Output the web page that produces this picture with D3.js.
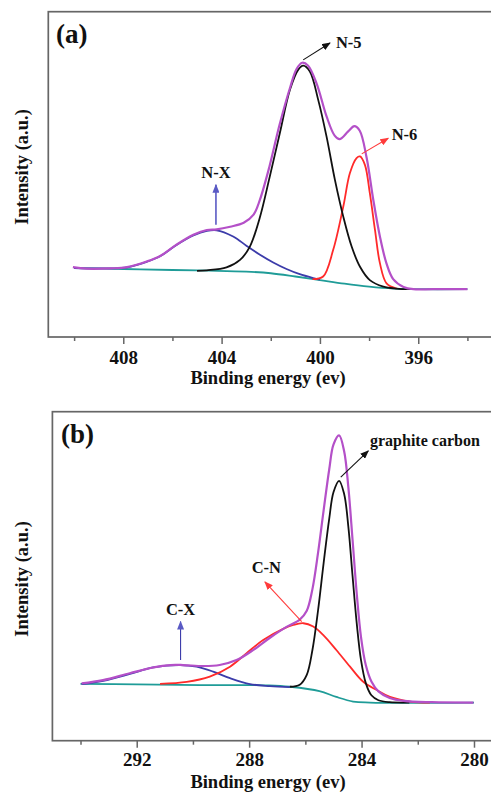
<!DOCTYPE html>
<html>
<head>
<meta charset="utf-8">
<script src="https://cdn.jsdelivr.net/npm/d3@7"></script>
<style>
body { margin: 0; background: #fff; }
svg text { font-family: "Liberation Serif", "Times New Roman", serif; font-weight: bold; fill: #111; }
</style>
</head>
<body>
<svg id="chart" width="491" height="793"></svg>
<script>
// ---- panel (a): N 1s ----
var majorTicksA = [408, 404, 400, 396];
var minorTicksA = [410, 406, 402, 398, 394];
var baseA = [[410.0, 21.2], [408.0, 20.9], [406.0, 20.6], [404.5, 20.4], [403.0, 20.1], [402.0, 19.6],
    [401.0, 18.6], [400.0, 17.5], [399.0, 16.4], [398.0, 15.5], [397.0, 14.9], [396.0, 14.7], [394.0, 14.7]];
var nxA = [[410.0, 21.2], [408.5, 21.1], [407.85, 21.4], [407.05, 23.1], [406.5, 24.8], [405.85, 28.2],
    [405.15, 31.2], [404.6, 32.6], [404.2, 32.8], [403.53, 30.9], [402.98, 28.0], [402.44, 25.3],
    [401.9, 22.9], [401.36, 20.9], [400.82, 19.3], [400.27, 18.1], [400.0, 17.6]];
var n6A = [[400.3, 17.8], [399.87, 18.6], [399.46, 26.8], [399.05, 40.1], [398.78, 50.4], [398.51, 55.0],
    [398.37, 55.5], [398.17, 52.9], [397.97, 44.2], [397.76, 32.9], [397.56, 22.7], [397.29, 16.5], [396.88, 14.9]];
var n5A = [[405.0, 20.3], [404.6, 20.5], [403.8, 21.4], [403.25, 23.7], [402.85, 27.8], [402.45, 36.6],
    [402.05, 49.0], [401.63, 62.7], [401.22, 76.0], [400.88, 82.2], [400.68, 83.4], [400.41, 81.6],
    [400.07, 72.9], [399.73, 61.6], [399.39, 48.3], [399.05, 37.0], [398.71, 27.8], [398.37, 21.6],
    [397.97, 17.5], [397.42, 15.5], [396.88, 14.9], [396.34, 14.7]];
var envA = [[410.05, 21.5], [409.5, 21.0], [408.5, 21.1], [407.85, 21.5], [407.05, 23.2], [406.5, 24.9],
    [405.85, 28.3], [405.15, 31.4], [404.6, 32.9], [404.2, 33.1], [403.65, 33.9], [403.1, 35.1],
    [402.7, 37.6], [402.45, 42.0], [402.05, 52.5], [401.65, 65.0], [401.2, 77.0], [400.95, 82.4],
    [400.72, 84.3], [400.48, 83.4], [400.13, 77.8], [399.73, 67.8], [399.4, 61.9], [399.2, 60.8],
    [398.85, 63.2], [398.6, 64.8], [398.38, 63.4], [398.1, 55.1], [397.83, 42.2], [397.56, 30.9],
    [397.3, 22.8], [397.02, 17.8], [396.6, 15.4], [396.2, 14.7], [395.4, 14.7], [394.0, 14.7]];

// ---- panel (b): C 1s ----
var majorTicksB = [292, 288, 284, 280];
var minorTicksB = [294, 290, 286, 282];
var baseB = [[294.0, 17.3], [292.0, 17.1], [289.75, 16.9], [287.3, 16.8], [286.55, 16.4], [285.5, 15.1],
    [284.9, 13.3], [284.3, 11.9], [283.7, 11.6], [280.0, 11.6]];
var cxB = [[293.96, 17.2], [293.19, 18.2], [292.24, 20.3], [291.41, 22.3], [290.46, 23.0], [289.87, 22.5],
    [289.28, 21.0], [288.68, 19.0], [287.97, 17.2], [287.26, 16.6], [286.55, 16.3]];
var cnB = [[291.17, 17.3], [290.22, 17.9], [289.4, 19.5], [288.68, 22.5], [288.09, 26.6], [287.5, 30.6],
    [286.79, 34.0], [286.43, 35.2], [286.07, 35.7], [285.72, 34.7], [285.36, 32.1], [284.89, 27.5],
    [284.41, 22.5], [283.94, 17.9], [283.46, 15.4], [282.99, 13.3], [282.28, 11.9], [281.57, 11.6]];
var gcB = [[286.55, 16.4], [286.2, 17.0], [285.95, 20.0], [285.75, 27.5], [285.55, 39.5], [285.35, 54.0],
    [285.15, 67.5], [285.0, 75.5], [284.8, 79.0], [284.62, 75.0], [284.47, 65.0], [284.32, 50.0],
    [284.17, 35.5], [284.02, 24.5], [283.85, 17.5], [283.65, 13.8], [283.4, 12.3], [283.0, 11.7], [282.3, 11.6]];
var envB = [[293.96, 17.4], [293.2, 18.4], [292.25, 20.5], [291.4, 22.3], [290.8, 23.0], [290.35, 23.0],
    [289.63, 22.7], [289.05, 23.0], [288.45, 24.5], [287.85, 27.6], [287.26, 31.3], [286.67, 34.6],
    [286.2, 36.8], [285.95, 39.5], [285.75, 46.0], [285.55, 57.0], [285.35, 70.0], [285.15, 82.5],
    [285.0, 90.0], [284.8, 92.8], [284.62, 88.0], [284.47, 77.0], [284.32, 61.0], [284.17, 44.5],
    [284.02, 31.5], [283.85, 23.0], [283.65, 18.0], [283.4, 15.0], [283.0, 13.0], [282.5, 12.1],
    [281.5, 11.7], [280.02, 11.6]];

var svg = d3.select("#chart");
var defs = svg.append("defs");
function addMarker(id, color) {
    defs.append("marker")
        .attr("id", id)
        .attr("viewBox", "0 0 10 8")
        .attr("refX", 9)
        .attr("refY", 4)
        .attr("markerWidth", 9)
        .attr("markerHeight", 7)
        .attr("markerUnits", "userSpaceOnUse")
        .attr("orient", "auto")
        .append("path")
        .attr("d", "M0,0L10,4L0,8Z")
        .attr("fill", color);
}
addMarker("headBlack", "#111");
addMarker("headRed", "#ff3b3b");
addMarker("headBlue", "#5a5ac4");

var frameColor = "#666";

function drawPanel(p) {
    var x = d3.scaleLinear().domain(p.xDomain).range([p.left, p.right]);
    var y = d3.scaleLinear().domain([0, 100]).range([p.bottom, p.top]);
    var g = svg.append("g");

    // frame
    g.append("rect")
        .attr("x", p.left).attr("y", p.top)
        .attr("width", p.right - p.left).attr("height", p.bottom - p.top)
        .attr("fill", "none").attr("stroke", frameColor).attr("stroke-width", 1.7);

    // minor ticks
    var minor = g.append("g")
        .attr("transform", `translate(0,${p.bottom})`)
        .call(d3.axisBottom(x).tickValues(p.minor).tickSize(4).tickFormat(""));
    minor.select(".domain").remove();
    minor.selectAll("line").attr("stroke", frameColor).attr("stroke-width", 1.5);

    // major ticks + labels
    var xAxis = g.append("g")
        .attr("transform", `translate(0,${p.bottom})`)
        .call(d3.axisBottom(x).tickValues(p.major).tickSize(7).tickPadding(p.pad).tickFormat(d3.format("d")));
    xAxis.select(".domain").remove();
    xAxis.attr("font-family", null).attr("font-size", null);
    xAxis.selectAll("line").attr("stroke", frameColor).attr("stroke-width", 1.5);
    xAxis.selectAll("text").attr("font-size", 19).attr("fill", "#111");

    // axis titles
    g.append("text")
        .attr("x", p.titleX).attr("y", p.titleY)
        .attr("text-anchor", "middle").attr("font-size", 18.5)
        .text("Binding energy (ev)");
    g.append("text")
        .attr("transform", "rotate(-90)")
        .attr("x", -p.yTitleCenter).attr("y", 28)
        .attr("text-anchor", "middle").attr("font-size", 18.5)
        .text("Intensity (a.u.)");

    // panel label
    g.append("text")
        .attr("x", p.labelX).attr("y", p.labelY)
        .attr("font-size", 27)
        .text(p.label);

    // curves
    var line = d3.line()
        .x(d => x(d[0]))
        .y(d => y(d[1]))
        .curve(d3.curveCatmullRom.alpha(0.5));
    p.series.forEach(function(s) {
        g.append("path")
            .attr("d", line(s.data))
            .attr("fill", "none")
            .attr("stroke", s.color)
            .attr("stroke-width", s.width)
            .attr("stroke-linejoin", "round");
    });

    // annotations
    p.notes.forEach(function(n) {
        g.append("line")
            .attr("x1", x(n.from[0])).attr("y1", y(n.from[1]))
            .attr("x2", x(n.to[0])).attr("y2", y(n.to[1]))
            .attr("stroke", n.color).attr("stroke-width", n.w || 1.1)
            .attr("marker-end", `url(#${n.head})`);
        g.append("text")
            .attr("x", x(n.at[0])).attr("y", y(n.at[1]))
            .attr("text-anchor", n.anchor)
            .attr("font-size", n.size)
            .text(n.text);
    });
}

drawPanel({
    xDomain: [411.05, 393], left: 48.3, right: 492, top: 11.7, bottom: 337,
    major: majorTicksA, minor: minorTicksA, pad: 7,
    titleX: 268, titleY: 384, yTitleCenter: 167,
    label: "(a)", labelX: 56, labelY: 43,
    series: [
        {data: baseA, color: "#1f9c98", width: 1.8},
        {data: nxA, color: "#3c3caa", width: 1.8},
        {data: n6A, color: "#ff2a2a", width: 1.8},
        {data: n5A, color: "#111", width: 1.8},
        {data: envA, color: "#b450c8", width: 2.2}
    ],
    notes: [
        {text: "N-5", at: [399.35, 88.9], anchor: "start", size: 16.5, from: [400.68, 85.2], to: [399.59, 90.4], color: "#111", head: "headBlack"},
        {text: "N-6", at: [397.08, 60.6], anchor: "start", size: 16.5, from: [398.3, 56.3], to: [397.22, 61.1], color: "#ff3b3b", head: "headRed"},
        {text: "N-X", at: [404.23, 48.9], anchor: "middle", size: 16.5, from: [404.23, 34.5], to: [404.23, 46.8], color: "#5a5ac4", head: "headBlue", w: 1.6}
    ]
});

drawPanel({
    xDomain: [295, 279], left: 52.4, right: 502.1, top: 411.7, bottom: 740.7,
    major: majorTicksB, minor: minorTicksB, pad: 5,
    titleX: 268, titleY: 788, yTitleCenter: 579,
    label: "(b)", labelX: 61, labelY: 443,
    series: [
        {data: baseB, color: "#1f9c98", width: 1.8},
        {data: cxB, color: "#3c3caa", width: 1.8},
        {data: cnB, color: "#ff2a2a", width: 1.8},
        {data: gcB, color: "#111", width: 1.8},
        {data: envB, color: "#b450c8", width: 2.2}
    ],
    notes: [
        {text: "graphite carbon", at: [283.7, 89.6], anchor: "start", size: 16, from: [284.74, 80.1], to: [283.76, 88.1], color: "#111", head: "headBlack"},
        {text: "C-N", at: [287.91, 51.0], anchor: "start", size: 16.5, from: [286.13, 36.2], to: [287.44, 48.3], color: "#ff3b3b", head: "headRed"},
        {text: "C-X", at: [290.44, 38.2], anchor: "middle", size: 16.5, from: [290.44, 24.5], to: [290.44, 36.2], color: "#3c3caa", head: "headBlue"}
    ]
});
</script>
</body>
</html>
